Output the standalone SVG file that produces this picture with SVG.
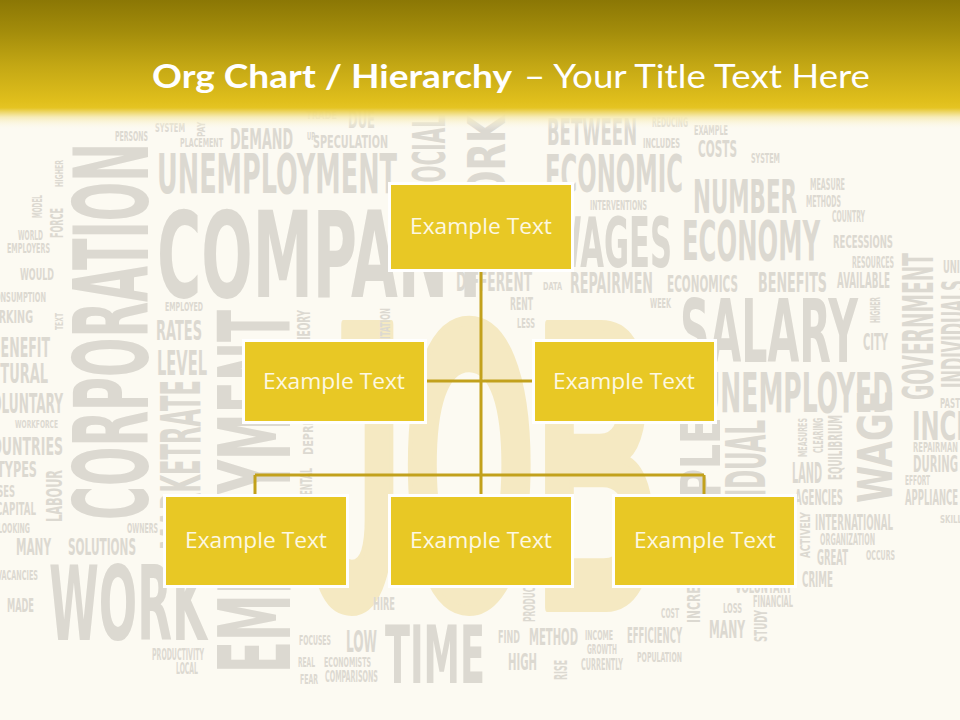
<svg xmlns="http://www.w3.org/2000/svg" width="960" height="720" viewBox="0 0 960 720">
<defs>
<linearGradient id="hdr" x1="0" y1="0" x2="0" y2="130" gradientUnits="userSpaceOnUse">
<stop offset="0" stop-color="#8b7705"/>
<stop offset="0.25" stop-color="#a48d0b"/>
<stop offset="0.5" stop-color="#c3a714"/>
<stop offset="0.78" stop-color="#e0bf1c"/>
<stop offset="0.83" stop-color="#e5c423"/>
<stop offset="0.9" stop-color="#f6eab0" stop-opacity="0.9"/>
<stop offset="1" stop-color="#fdfbf3" stop-opacity="0"/>
</linearGradient>
<style>
.w{font-family:"DejaVu Sans Condensed","DejaVu Sans",sans-serif;font-weight:700;fill:#dcd9d1}
.job{font-family:"Liberation Sans",Arial,sans-serif;font-weight:700;fill:#f5e9c2;stroke:#f5e9c2;stroke-width:10;stroke-linejoin:round}
.title{font-family:Lato,"Open Sans",sans-serif;fill:#ffffff;font-size:33px}
.box{fill:#e8c825;stroke:#ffffff;stroke-width:3}
.lbl{font-family:"Open Sans","Liberation Sans",sans-serif;font-size:22.5px;fill:#fdf8e2;text-anchor:middle}
.conn{stroke:#c2a11c;stroke-width:3;fill:none}
</style>
</defs>
<rect x="0" y="0" width="960" height="720" fill="#fcfaf2"/>

<g id="watermark">
<text class="job" x="308" y="607" font-size="410" textLength="351" lengthAdjust="spacingAndGlyphs">JOB</text>
</g>

<g id="wordcloud">
<text class="w" x="306" y="119" font-size="11" textLength="31" lengthAdjust="spacingAndGlyphs">TRADE</text>
<text class="w" x="348" y="128" font-size="24.7" textLength="27" lengthAdjust="spacingAndGlyphs">DUE</text>
<text class="w" x="115" y="141" font-size="13.7" textLength="33" lengthAdjust="spacingAndGlyphs">PERSONS</text>
<text class="w" x="155" y="132" font-size="12.3" textLength="30" lengthAdjust="spacingAndGlyphs">SYSTEM</text>
<text class="w" transform="translate(205,137) rotate(-90)" font-size="9.6" textLength="15" lengthAdjust="spacingAndGlyphs">PAY</text>
<text class="w" x="180" y="147" font-size="12.3" textLength="43" lengthAdjust="spacingAndGlyphs">PLACEMENT</text>
<text class="w" x="230" y="149" font-size="28.8" textLength="63" lengthAdjust="spacingAndGlyphs">DEMAND</text>
<text class="w" x="307" y="140" font-size="9.6" textLength="8" lengthAdjust="spacingAndGlyphs">UP</text>
<text class="w" x="313" y="148" font-size="17.8" textLength="75" lengthAdjust="spacingAndGlyphs">SPECULATION</text>
<text class="w" x="157" y="193" font-size="54.9" textLength="240" lengthAdjust="spacingAndGlyphs">UNEMPLOYMENT</text>
<text class="w" x="157" y="297" font-size="119" textLength="335" lengthAdjust="spacingAndGlyphs">COMPANY</text>
<text class="w" x="165" y="311" font-size="12.3" textLength="38" lengthAdjust="spacingAndGlyphs">EMPLOYED</text>
<text class="w" transform="translate(63,187) rotate(-90)" font-size="11" textLength="27" lengthAdjust="spacingAndGlyphs">HIGHER</text>
<text class="w" transform="translate(42,218) rotate(-90)" font-size="13.7" textLength="23" lengthAdjust="spacingAndGlyphs">MODEL</text>
<text class="w" transform="translate(63,238) rotate(-90)" font-size="17.8" textLength="30" lengthAdjust="spacingAndGlyphs">FORCE</text>
<text class="w" x="18" y="240" font-size="13.7" textLength="25" lengthAdjust="spacingAndGlyphs">WORLD</text>
<text class="w" x="7" y="253" font-size="13.7" textLength="43" lengthAdjust="spacingAndGlyphs">EMPLOYERS</text>
<text class="w" x="20" y="280" font-size="16.5" textLength="34" lengthAdjust="spacingAndGlyphs">WOULD</text>
<text class="w" x="-10" y="302" font-size="13.7" textLength="56" lengthAdjust="spacingAndGlyphs">CONSUMPTION</text>
<text class="w" transform="translate(148,520) rotate(-90)" font-size="103" textLength="377" lengthAdjust="spacingAndGlyphs">CORPORATION</text>
<text class="w" transform="translate(445,197) rotate(-90)" font-size="43.9" textLength="82" lengthAdjust="spacingAndGlyphs">SOCIAL</text>
<text class="w" transform="translate(505,240) rotate(-90)" font-size="50.8" textLength="197" lengthAdjust="spacingAndGlyphs">WORKING</text>

<text class="w" x="547" y="145" font-size="37" textLength="90" lengthAdjust="spacingAndGlyphs">BETWEEN</text>
<text class="w" x="652" y="127" font-size="13.7" textLength="36" lengthAdjust="spacingAndGlyphs">REDUCING</text>
<text class="w" x="694" y="135" font-size="13.7" textLength="34" lengthAdjust="spacingAndGlyphs">EXAMPLE</text>
<text class="w" x="643" y="148" font-size="13.7" textLength="37" lengthAdjust="spacingAndGlyphs">INCLUDES</text>
<text class="w" x="698" y="157" font-size="23.3" textLength="39" lengthAdjust="spacingAndGlyphs">COSTS</text>
<text class="w" x="751" y="163" font-size="13.7" textLength="29" lengthAdjust="spacingAndGlyphs">SYSTEM</text>
<text class="w" x="545" y="192" font-size="50.8" textLength="138" lengthAdjust="spacingAndGlyphs">ECONOMIC</text>
<text class="w" x="693" y="213" font-size="45.3" textLength="104" lengthAdjust="spacingAndGlyphs">NUMBER</text>
<text class="w" x="810" y="190" font-size="15.1" textLength="35" lengthAdjust="spacingAndGlyphs">MEASURE</text>
<text class="w" x="806" y="207" font-size="15.1" textLength="35" lengthAdjust="spacingAndGlyphs">METHODS</text>
<text class="w" x="832" y="222" font-size="15.1" textLength="33" lengthAdjust="spacingAndGlyphs">COUNTRY</text>
<text class="w" x="590" y="210" font-size="13.7" textLength="57" lengthAdjust="spacingAndGlyphs">INTERVENTIONS</text>
<text class="w" x="548" y="267" font-size="68.6" textLength="124" lengthAdjust="spacingAndGlyphs">WAGES</text>
<text class="w" x="682" y="260" font-size="54.9" textLength="138" lengthAdjust="spacingAndGlyphs">ECONOMY</text>
<text class="w" x="833" y="248" font-size="17.8" textLength="60" lengthAdjust="spacingAndGlyphs">RECESSIONS</text>
<text class="w" x="852" y="268" font-size="15.1" textLength="42" lengthAdjust="spacingAndGlyphs">RESOURCES</text>
<text class="w" x="837" y="288" font-size="20.6" textLength="53" lengthAdjust="spacingAndGlyphs">AVAILABLE</text>
<text class="w" x="758" y="292" font-size="27.4" textLength="69" lengthAdjust="spacingAndGlyphs">BENEFITS</text>
<text class="w" x="667" y="292" font-size="23.3" textLength="71" lengthAdjust="spacingAndGlyphs">ECONOMICS</text>
<text class="w" x="570" y="293" font-size="28.8" textLength="83" lengthAdjust="spacingAndGlyphs">REPAIRMEN</text>
<text class="w" x="543" y="290" font-size="11" textLength="19" lengthAdjust="spacingAndGlyphs">DATA</text>
<text class="w" x="456" y="291" font-size="27.4" textLength="76" lengthAdjust="spacingAndGlyphs">DIFFERENT</text>
<text class="w" x="510" y="310" font-size="17.8" textLength="23" lengthAdjust="spacingAndGlyphs">RENT</text>
<text class="w" x="517" y="328" font-size="13.7" textLength="18" lengthAdjust="spacingAndGlyphs">LESS</text>
<text class="w" x="650" y="308" font-size="13.7" textLength="21" lengthAdjust="spacingAndGlyphs">WEEK</text>
<text class="w" x="943" y="273" font-size="17.8" textLength="17" lengthAdjust="spacingAndGlyphs">UNI</text>
<text class="w" x="680" y="362" font-size="87.8" textLength="178" lengthAdjust="spacingAndGlyphs">SALARY</text>
<text class="w" transform="translate(880,323) rotate(-90)" font-size="13.7" textLength="26" lengthAdjust="spacingAndGlyphs">HIGHER</text>
<text class="w" x="863" y="350" font-size="23.3" textLength="25" lengthAdjust="spacingAndGlyphs">CITY</text>
<text class="w" x="700" y="412" font-size="54.9" textLength="193" lengthAdjust="spacingAndGlyphs">UNEMPLOYED</text>
<text class="w" transform="translate(933,400) rotate(-90)" font-size="42.5" textLength="147" lengthAdjust="spacingAndGlyphs">GOVERNMENT</text>
<text class="w" transform="translate(966,388) rotate(-90)" font-size="33" textLength="108" lengthAdjust="spacingAndGlyphs">INDIVIDUALS</text>
<text class="w" x="940" y="408" font-size="13.7" textLength="20" lengthAdjust="spacingAndGlyphs">PAST</text>
<text class="w" x="912" y="440" font-size="38.4" textLength="127" lengthAdjust="spacingAndGlyphs">INCREASE</text>
<text class="w" x="913" y="452" font-size="13.7" textLength="45" lengthAdjust="spacingAndGlyphs">REPAIRMAN</text>
<text class="w" x="913" y="472" font-size="23.3" textLength="45" lengthAdjust="spacingAndGlyphs">DURING</text>
<text class="w" x="905" y="485" font-size="13.7" textLength="25" lengthAdjust="spacingAndGlyphs">EFFORT</text>
<text class="w" x="905" y="505" font-size="20.6" textLength="53" lengthAdjust="spacingAndGlyphs">APPLIANCE</text>
<text class="w" x="940" y="523" font-size="11" textLength="22" lengthAdjust="spacingAndGlyphs">SKILL</text>
<text class="w" transform="translate(892,503) rotate(-90)" font-size="48" textLength="113" lengthAdjust="spacingAndGlyphs">WAGE</text>
<text class="w" transform="translate(807,457) rotate(-90)" font-size="12.3" textLength="39" lengthAdjust="spacingAndGlyphs">MEASURES</text>
<text class="w" transform="translate(823,453) rotate(-90)" font-size="13.7" textLength="35" lengthAdjust="spacingAndGlyphs">CLEARING</text>
<text class="w" transform="translate(842,480) rotate(-90)" font-size="19.2" textLength="65" lengthAdjust="spacingAndGlyphs">EQUILIBRIUM</text>
<text class="w" x="792" y="483" font-size="28.8" textLength="30" lengthAdjust="spacingAndGlyphs">LAND</text>
<text class="w" x="795" y="505" font-size="20.6" textLength="48" lengthAdjust="spacingAndGlyphs">AGENCIES</text>
<text class="w" transform="translate(720,587) rotate(-90)" font-size="54.9" textLength="170" lengthAdjust="spacingAndGlyphs">PEOPLE</text>
<text class="w" transform="translate(765,570) rotate(-90)" font-size="54.9" textLength="150" lengthAdjust="spacingAndGlyphs">INDIVIDUAL</text>
<text class="w" x="815" y="530" font-size="20.6" textLength="78" lengthAdjust="spacingAndGlyphs">INTERNATIONAL</text>
<text class="w" transform="translate(810,558) rotate(-90)" font-size="13.7" textLength="46" lengthAdjust="spacingAndGlyphs">ACTIVELY</text>
<text class="w" x="820" y="545" font-size="15.1" textLength="55" lengthAdjust="spacingAndGlyphs">ORGANIZATION</text>
<text class="w" x="817" y="565" font-size="20.6" textLength="31" lengthAdjust="spacingAndGlyphs">GREAT</text>
<text class="w" x="866" y="560" font-size="13.7" textLength="29" lengthAdjust="spacingAndGlyphs">OCCURS</text>
<text class="w" x="802" y="587" font-size="20.6" textLength="31" lengthAdjust="spacingAndGlyphs">CRIME</text>
<text class="w" x="735" y="593" font-size="17.8" textLength="57" lengthAdjust="spacingAndGlyphs">VOLUNTARY</text>
<text class="w" x="753" y="607" font-size="16.5" textLength="40" lengthAdjust="spacingAndGlyphs">FINANCIAL</text>
<text class="w" x="723" y="613" font-size="13.7" textLength="19" lengthAdjust="spacingAndGlyphs">LOSS</text>
<text class="w" x="709" y="638" font-size="24.7" textLength="36" lengthAdjust="spacingAndGlyphs">MANY</text>
<text class="w" transform="translate(767,642) rotate(-90)" font-size="17.8" textLength="32" lengthAdjust="spacingAndGlyphs">STUDY</text>
<text class="w" transform="translate(700,623) rotate(-90)" font-size="17.8" textLength="60" lengthAdjust="spacingAndGlyphs">INCREASE</text>
<text class="w" x="661" y="618" font-size="13.7" textLength="18" lengthAdjust="spacingAndGlyphs">COST</text>
<text class="w" x="627" y="643" font-size="20.6" textLength="55" lengthAdjust="spacingAndGlyphs">EFFICIENCY</text>
<text class="w" x="637" y="662" font-size="13.7" textLength="45" lengthAdjust="spacingAndGlyphs">POPULATION</text>
<text class="w" x="585" y="640" font-size="13.7" textLength="28" lengthAdjust="spacingAndGlyphs">INCOME</text>
<text class="w" x="587" y="654" font-size="13.7" textLength="30" lengthAdjust="spacingAndGlyphs">GROWTH</text>
<text class="w" x="581" y="670" font-size="15.1" textLength="42" lengthAdjust="spacingAndGlyphs">CURRENTLY</text>
<text class="w" x="529" y="645" font-size="23.3" textLength="49" lengthAdjust="spacingAndGlyphs">METHOD</text>
<text class="w" x="498" y="643" font-size="17.8" textLength="22" lengthAdjust="spacingAndGlyphs">FIND</text>
<text class="w" x="508" y="670" font-size="23.3" textLength="29" lengthAdjust="spacingAndGlyphs">HIGH</text>
<text class="w" transform="translate(567,680) rotate(-90)" font-size="17.8" textLength="20" lengthAdjust="spacingAndGlyphs">RISE</text>
<text class="w" transform="translate(535,622) rotate(-90)" font-size="16.5" textLength="62" lengthAdjust="spacingAndGlyphs">PRODUCTIVITY</text>
<text class="w" x="385" y="683" font-size="79.6" textLength="100" lengthAdjust="spacingAndGlyphs">TIME</text>
<text class="w" x="373" y="610" font-size="17.8" textLength="22" lengthAdjust="spacingAndGlyphs">HIRE</text>
<text class="w" x="346" y="652" font-size="30.2" textLength="31" lengthAdjust="spacingAndGlyphs">LOW</text>
<text class="w" x="299" y="645" font-size="13.7" textLength="32" lengthAdjust="spacingAndGlyphs">FOCUSES</text>
<text class="w" x="298" y="667" font-size="13.7" textLength="17" lengthAdjust="spacingAndGlyphs">REAL</text>
<text class="w" x="324" y="667" font-size="13.7" textLength="47" lengthAdjust="spacingAndGlyphs">ECONOMISTS</text>
<text class="w" x="300" y="684" font-size="13.7" textLength="18" lengthAdjust="spacingAndGlyphs">FEAR</text>
<text class="w" x="325" y="682" font-size="16.5" textLength="53" lengthAdjust="spacingAndGlyphs">COMPARISONS</text>
<text class="w" transform="translate(290,673) rotate(-90)" font-size="100" textLength="363" lengthAdjust="spacingAndGlyphs">EMPLOYMENT</text>
<text class="w" transform="translate(200,550) rotate(-90)" font-size="54.9" textLength="170" lengthAdjust="spacingAndGlyphs">MARKETRATE</text>
<text class="w" x="156" y="340" font-size="27.4" textLength="46" lengthAdjust="spacingAndGlyphs">RATES</text>
<text class="w" x="157" y="375" font-size="34.3" textLength="50" lengthAdjust="spacingAndGlyphs">LEVEL</text>
<text class="w" transform="translate(310,350) rotate(-90)" font-size="17.8" textLength="40" lengthAdjust="spacingAndGlyphs">THEORY</text>
<text class="w" transform="translate(313,455) rotate(-90)" font-size="13.7" textLength="70" lengthAdjust="spacingAndGlyphs">DEPRESSION</text>
<text class="w" transform="translate(312,534) rotate(-90)" font-size="15.1" textLength="66" lengthAdjust="spacingAndGlyphs">FUNDAMENTAL</text>
<text class="w" transform="translate(390,353) rotate(-90)" font-size="13.7" textLength="45" lengthAdjust="spacingAndGlyphs">LIMITATION</text>
<text class="w" transform="translate(63,330) rotate(-90)" font-size="11" textLength="17" lengthAdjust="spacingAndGlyphs">TEXT</text>
<text class="w" x="-20" y="323" font-size="17.8" textLength="53" lengthAdjust="spacingAndGlyphs">WORKING</text>
<text class="w" x="-9" y="357" font-size="27.4" textLength="59" lengthAdjust="spacingAndGlyphs">BENEFIT</text>
<text class="w" x="-48" y="383" font-size="27.4" textLength="96" lengthAdjust="spacingAndGlyphs">STRUCTURAL</text>
<text class="w" x="-18" y="413" font-size="27.4" textLength="81" lengthAdjust="spacingAndGlyphs">VOLUNTARY</text>
<text class="w" x="15" y="428" font-size="11" textLength="43" lengthAdjust="spacingAndGlyphs">WORKFORCE</text>
<text class="w" x="-18" y="455" font-size="24.7" textLength="81" lengthAdjust="spacingAndGlyphs">COUNTRIES</text>
<text class="w" x="-3" y="477" font-size="20.6" textLength="40" lengthAdjust="spacingAndGlyphs">TYPES</text>
<text class="w" transform="translate(62,522) rotate(-90)" font-size="22" textLength="52" lengthAdjust="spacingAndGlyphs">LABOUR</text>
<text class="w" x="-22" y="497" font-size="16.5" textLength="37" lengthAdjust="spacingAndGlyphs">CAUSES</text>
<text class="w" x="-4" y="515" font-size="17.8" textLength="40" lengthAdjust="spacingAndGlyphs">CAPITAL</text>
<text class="w" x="-2" y="533" font-size="13.7" textLength="32" lengthAdjust="spacingAndGlyphs">LOOKING</text>
<text class="w" x="16" y="555" font-size="23.3" textLength="35" lengthAdjust="spacingAndGlyphs">MANY</text>
<text class="w" x="68" y="555" font-size="23.3" textLength="68" lengthAdjust="spacingAndGlyphs">SOLUTIONS</text>
<text class="w" x="127" y="533" font-size="13.7" textLength="31" lengthAdjust="spacingAndGlyphs">OWNERS</text>
<text class="w" x="-3" y="580" font-size="13.7" textLength="41" lengthAdjust="spacingAndGlyphs">VACANCIES</text>
<text class="w" x="7" y="612" font-size="19.2" textLength="27" lengthAdjust="spacingAndGlyphs">MADE</text>
<text class="w" x="49" y="640" font-size="103" textLength="158" lengthAdjust="spacingAndGlyphs">WORK</text>
<text class="w" x="152" y="660" font-size="16.5" textLength="52" lengthAdjust="spacingAndGlyphs">PRODUCTIVITY</text>
<text class="w" x="176" y="674" font-size="15.1" textLength="22" lengthAdjust="spacingAndGlyphs">LOCAL</text>
</g>

<rect id="header" x="0" y="0" width="960" height="130" fill="url(#hdr)"/>
<g id="title">
<text class="title" x="152" y="88" font-weight="700" textLength="360" lengthAdjust="spacingAndGlyphs">Org Chart / Hierarchy</text>
<text class="title" x="524" y="88" textLength="346" lengthAdjust="spacingAndGlyphs">– Your Title Text Here</text>
</g>

<g id="connectors">
<path class="conn" d="M481,272 V494"/>
<path class="conn" d="M427,381 H532"/>
<path class="conn" d="M255,475 H704"/>
<path class="conn" d="M255,475 V494"/>
<path class="conn" d="M704,475 V494"/>
</g>

<g id="node-top">
<rect class="box" x="389.5" y="183.5" width="183" height="87"/>
<text class="lbl" x="481" y="234" textLength="142" lengthAdjust="spacingAndGlyphs">Example Text</text>
</g>
<g id="node-mid-left">
<rect class="box" x="243.5" y="340.5" width="182" height="82"/>
<text class="lbl" x="334" y="389" textLength="142" lengthAdjust="spacingAndGlyphs">Example Text</text>
</g>
<g id="node-mid-right">
<rect class="box" x="533.5" y="340.5" width="182" height="82"/>
<text class="lbl" x="624" y="389" textLength="142" lengthAdjust="spacingAndGlyphs">Example Text</text>
</g>
<g id="node-bot-left">
<rect class="box" x="164.5" y="495.5" width="183" height="91"/>
<text class="lbl" x="256" y="548" textLength="142" lengthAdjust="spacingAndGlyphs">Example Text</text>
</g>
<g id="node-bot-center">
<rect class="box" x="389.5" y="495.5" width="183" height="91"/>
<text class="lbl" x="481" y="548" textLength="142" lengthAdjust="spacingAndGlyphs">Example Text</text>
</g>
<g id="node-bot-right">
<rect class="box" x="613.5" y="495.5" width="182" height="91"/>
<text class="lbl" x="705" y="548" textLength="142" lengthAdjust="spacingAndGlyphs">Example Text</text>
</g>
</svg>
